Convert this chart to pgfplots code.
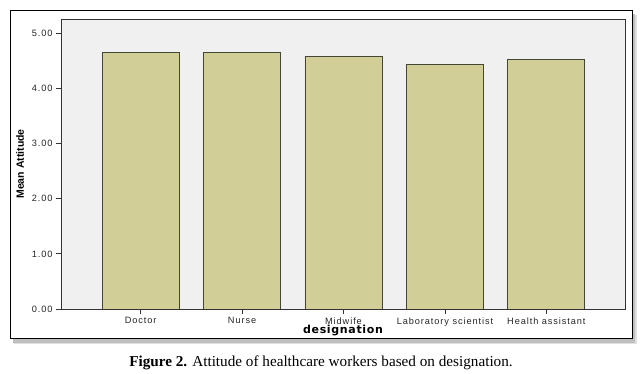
\documentclass[border=0pt]{standalone}
\usepackage{pgfplots}
\pgfplotsset{compat=1.18}
\usepackage{fontspec}
\setmainfont{Liberation Serif}
\newfontfamily\tickfont[LetterSpace=10]{Liberation Sans}
\newfontfamily\ylabfont{Liberation Sans}
\newfontfamily\xlabfont[LetterSpace=6]{DejaVu Sans}
\definecolor{barfill}{RGB}{210,206,152}
\definecolor{plotbg}{RGB}{240,240,240}
\definecolor{baredge}{RGB}{70,70,55}
\begin{document}
\begin{tikzpicture}[x=1pt,y=1pt]
\path[use as bounding box] (0,0) rectangle (641,374);
\fill[black!12] (14,30) rectangle (637,359);
\fill[black!25] (13,31) rectangle (635,360);
\fill[white] (10,35) rectangle (632,363);
\draw[black, line width=1pt] (10,35) rectangle (632,363);
\begin{axis}[
  at={(61pt,65pt)}, anchor=south west,
  scale only axis, width=564pt, height=290pt,
  xmin=-0.785, xmax=4.775, ymin=0, ymax=5.26,
  ybar, bar width=0.76,
  axis background/.style={fill=plotbg},
  axis line style={black!80, line width=0.8pt},
  tick style={black!80, line width=0.8pt},
  tick align=outside, major tick length=5pt,
  xtick pos=bottom, ytick pos=left,
  xtick={0,1,2,3,4},
  xticklabels={Doctor,Nurse,Midwife,Laboratory scientist,Health assistant},
  ytick={0,1,2,3,4,5},
  yticklabel style={/pgf/number format/.cd, fixed, fixed zerofill, precision=2, assume math mode=true},
  ticklabel style={font=\tickfont\fontsize{9.2}{10}\selectfont, text=black!85},
  xlabel={designation},
  xlabel style={font=\xlabfont\bfseries\fontsize{11}{12}\selectfont, at={(axis description cs:0.5,0)}, anchor=center, yshift=-22pt},
  ylabel={Mean Attitude},
  ylabel style={font=\ylabfont\bfseries\fontsize{10.5}{12}\selectfont, at={(axis description cs:0,0.5)}, anchor=center, yshift=41pt},
]
\addplot[fill=barfill, draw=baredge, line width=0.9pt] coordinates {(0,4.65) (1,4.65) (2,4.58) (3,4.44) (4,4.53)};
\end{axis}
\node at (321,11) {\fontsize{15.2}{17}\selectfont\textbf{Figure 2.} Attitude of healthcare workers based on designation.};
\end{tikzpicture}
\end{document}
